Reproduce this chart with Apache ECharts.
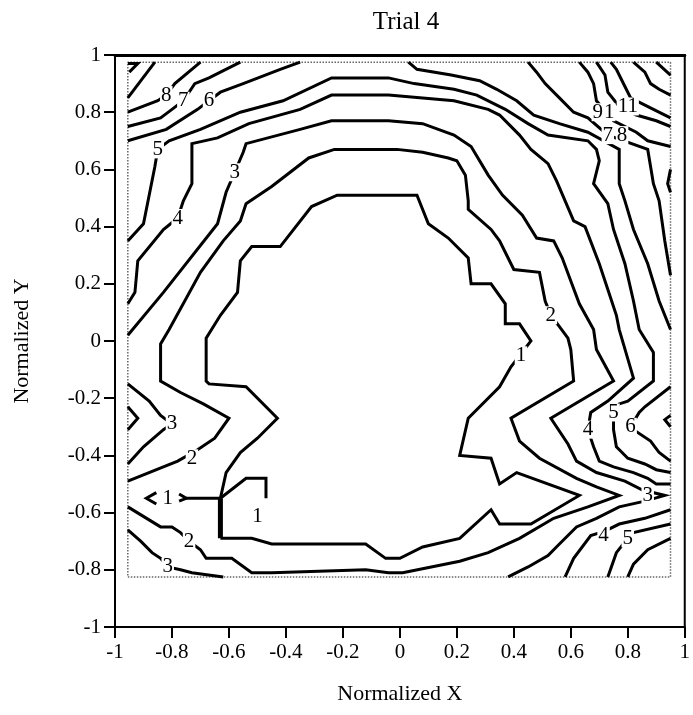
<!DOCTYPE html>
<html><head><meta charset="utf-8">
<script src="https://cdn.jsdelivr.net/npm/echarts@6/dist/echarts.min.js"></script>
<style>html,body{margin:0;padding:0;background:#fff}#c{width:693px;height:715px}</style>
</head><body><div id="c"></div>
<script>
// ---- axis ticks ----
const xTickMin = -1, xTickMax = 1, tickStep = 0.2;
const yTickMin = -1, yTickMax = 1;
// ---- measured data window (dotted frame) ----
const dataFrame = [[-0.955,-0.825],[0.95,-0.825],[0.95,0.975],[-0.955,0.975],[-0.955,-0.825]];
// ---- contour lines (Normalized X, Normalized Y) ----
const c1Loop = [[-0.63,-0.55],[-0.61,-0.46],[-0.56,-0.39],[-0.50,-0.34],[-0.43,-0.27],[-0.54,-0.16],[-0.67,-0.15],[-0.68,-0.14],[-0.68,0.01],[-0.63,0.09],[-0.57,0.17],[-0.56,0.28],[-0.52,0.33],[-0.42,0.33],[-0.31,0.47],[-0.22,0.51],[0.06,0.51],[0.10,0.41],[0.17,0.36],[0.24,0.29],[0.25,0.20],[0.32,0.20],[0.37,0.13],[0.37,0.06],[0.42,0.06],[0.46,0.00],[0.39,-0.09],[0.35,-0.16],[0.24,-0.27],[0.21,-0.40],[0.32,-0.41],[0.35,-0.50],[0.41,-0.46],[0.63,-0.54],[0.46,-0.64],[0.35,-0.64],[0.32,-0.59],[0.21,-0.69],[0.08,-0.72],[0.00,-0.76],[-0.05,-0.76],[-0.12,-0.71],[-0.45,-0.71],[-0.52,-0.69],[-0.63,-0.69]];
const c1Stem = [[-0.63,-0.55],[-0.63,-0.69]];
const c1Hook = [[-0.63,-0.55],[-0.54,-0.48],[-0.47,-0.48],[-0.47,-0.55]];
const c1Spike = [[-0.63,-0.55],[-0.75,-0.55]];
const c1SpikeTail = [[-0.775,-0.535],[-0.75,-0.55],[-0.775,-0.56]];
const c1SpikeTip = [[-0.855,-0.53],[-0.89,-0.55],[-0.855,-0.57]];
const c2Line = [[-0.955,-0.49],[-0.78,-0.42],[-0.71,-0.38],[-0.65,-0.34],[-0.60,-0.27],[-0.69,-0.22],[-0.77,-0.18],[-0.84,-0.14],[-0.84,-0.01],[-0.81,0.04],[-0.70,0.24],[-0.62,0.35],[-0.56,0.42],[-0.54,0.48],[-0.45,0.54],[-0.32,0.64],[-0.23,0.67],[-0.01,0.67],[0.08,0.66],[0.17,0.64],[0.20,0.63],[0.23,0.58],[0.24,0.49],[0.24,0.46],[0.32,0.39],[0.35,0.35],[0.40,0.25],[0.49,0.24],[0.51,0.14],[0.53,0.09],[0.56,0.05],[0.59,0.01],[0.60,-0.03],[0.61,-0.14],[0.39,-0.27],[0.42,-0.35],[0.49,-0.41],[0.62,-0.48],[0.69,-0.51],[0.77,-0.54],[0.66,-0.58],[0.54,-0.62],[0.42,-0.69],[0.31,-0.74],[0.21,-0.77],[0.11,-0.79],[0.01,-0.81],[-0.04,-0.81],[-0.12,-0.80],[-0.45,-0.81],[-0.52,-0.81],[-0.59,-0.76],[-0.68,-0.76],[-0.70,-0.73],[-0.74,-0.70],[-0.77,-0.67],[-0.80,-0.65],[-0.84,-0.65],[-0.955,-0.58]];
const c3Line = [[-0.955,0.02],[-0.83,0.17],[-0.64,0.41],[-0.61,0.52],[-0.58,0.59],[-0.55,0.66],[-0.54,0.69],[-0.35,0.74],[-0.24,0.77],[-0.04,0.77],[0.08,0.76],[0.19,0.72],[0.25,0.68],[0.31,0.58],[0.36,0.51],[0.43,0.44],[0.48,0.36],[0.54,0.35],[0.57,0.29],[0.60,0.21],[0.63,0.13],[0.68,0.04],[0.69,-0.03],[0.75,-0.14],[0.53,-0.27],[0.59,-0.36],[0.62,-0.42],[0.69,-0.46],[0.79,-0.49],[0.85,-0.52],[0.93,-0.54],[0.86,-0.56],[0.77,-0.58],[0.69,-0.62],[0.62,-0.65],[0.56,-0.71],[0.52,-0.75],[0.45,-0.79],[0.38,-0.825]];
const c3LeftV = [[-0.955,-0.15],[-0.88,-0.21],[-0.84,-0.26],[-0.80,-0.29],[-0.83,-0.31],[-0.90,-0.37],[-0.955,-0.43]];
const c3Bottom = [[-0.955,-0.66],[-0.91,-0.70],[-0.87,-0.74],[-0.84,-0.76],[-0.815,-0.79],[-0.77,-0.80],[-0.73,-0.81],[-0.62,-0.825]];
const c4Line = [[-0.955,0.13],[-0.93,0.17],[-0.92,0.28],[-0.83,0.39],[-0.78,0.43],[-0.76,0.49],[-0.73,0.55],[-0.73,0.69],[-0.64,0.71],[-0.53,0.76],[-0.35,0.81],[-0.24,0.86],[-0.04,0.86],[0.08,0.85],[0.19,0.84],[0.31,0.81],[0.35,0.79],[0.42,0.72],[0.46,0.67],[0.52,0.62],[0.55,0.56],[0.58,0.49],[0.61,0.42],[0.65,0.40],[0.70,0.27],[0.73,0.18],[0.76,0.09],[0.77,0.04],[0.82,-0.13],[0.73,-0.21],[0.67,-0.25],[0.66,-0.31],[0.68,-0.37],[0.70,-0.42],[0.75,-0.44],[0.82,-0.46],[0.87,-0.48],[0.90,-0.50],[0.95,-0.50]];
const c4LeftTip = [[-0.955,-0.23],[-0.92,-0.27],[-0.955,-0.31]];
const c4Bottom = [[0.95,-0.59],[0.86,-0.62],[0.77,-0.64],[0.72,-0.665],[0.67,-0.68],[0.61,-0.76],[0.58,-0.825]];
const c5Line = [[-0.955,0.35],[-0.90,0.41],[-0.86,0.61],[-0.85,0.67],[-0.81,0.70],[-0.70,0.74],[-0.56,0.80],[-0.41,0.84],[-0.24,0.92],[-0.04,0.92],[0.05,0.90],[0.19,0.88],[0.27,0.86],[0.37,0.81],[0.45,0.76],[0.52,0.72],[0.66,0.70],[0.69,0.67],[0.70,0.63],[0.68,0.55],[0.73,0.48],[0.75,0.39],[0.79,0.27],[0.82,0.14],[0.84,0.04],[0.89,-0.04],[0.89,-0.14],[0.80,-0.21],[0.77,-0.22],[0.75,-0.25],[0.75,-0.31],[0.76,-0.37],[0.80,-0.41],[0.86,-0.43],[0.90,-0.45],[0.95,-0.46]];
const c5Bottom = [[0.95,-0.64],[0.82,-0.67],[0.80,-0.69],[0.76,-0.74],[0.73,-0.825]];
const c6Left = [[-0.955,0.70],[-0.82,0.74],[-0.71,0.81],[-0.67,0.84],[-0.63,0.87],[-0.55,0.90],[-0.42,0.95],[-0.35,0.975]];
const c6Right = [[0.03,0.975],[0.06,0.95],[0.18,0.93],[0.28,0.91],[0.34,0.88],[0.41,0.84],[0.47,0.79],[0.56,0.76],[0.66,0.73],[0.77,0.67],[0.77,0.61],[0.77,0.55],[0.79,0.49],[0.82,0.39],[0.87,0.27],[0.91,0.14],[0.95,0.04]];
const c6Lobe = [[0.95,-0.16],[0.86,-0.23],[0.84,-0.25],[0.81,-0.30],[0.82,-0.31],[0.88,-0.35],[0.91,-0.39],[0.95,-0.42]];
const c6Bottom = [[0.95,-0.69],[0.87,-0.73],[0.82,-0.78],[0.80,-0.825]];
const c7Left = [[-0.955,0.75],[-0.84,0.78],[-0.80,0.81],[-0.76,0.84],[-0.72,0.90],[-0.67,0.92],[-0.56,0.975]];
const c7Right = [[0.45,0.975],[0.48,0.94],[0.51,0.90],[0.56,0.85],[0.61,0.80],[0.66,0.78],[0.73,0.72],[0.87,0.67],[0.88,0.61],[0.89,0.55],[0.91,0.49],[0.93,0.35],[0.95,0.23]];
const c7Tip = [[0.95,-0.26],[0.93,-0.275],[0.95,-0.30]];
const c8Left = [[-0.955,0.80],[-0.85,0.84],[-0.82,0.86],[-0.79,0.90],[-0.70,0.975]];
const c8Right = [[0.63,0.975],[0.66,0.94],[0.68,0.90],[0.69,0.84],[0.75,0.77],[0.83,0.73],[0.87,0.70],[0.95,0.68]];
const c8Bump = [[0.95,0.60],[0.94,0.55],[0.95,0.52]];
const c9Left = [[-0.955,0.85],[-0.86,0.975]];
const c9Right = [[0.69,0.975],[0.72,0.93],[0.73,0.87],[0.77,0.82],[0.83,0.79],[0.90,0.77],[0.95,0.75]];
const c10Right = [[0.74,0.975],[0.76,0.95],[0.79,0.89],[0.81,0.85],[0.85,0.83],[0.89,0.81],[0.95,0.78]];
const c10Corner = [[-0.955,0.97],[-0.92,0.97],[-0.95,0.94]];
const c11Line = [[0.82,0.975],[0.86,0.94],[0.88,0.90],[0.91,0.88],[0.95,0.86]];
const c12Line = [[0.90,0.975],[0.95,0.93]];
// ---- contour labels ----
const labelText = ["8","7","6","5","4","3","9","1","11","7","8","2","1","5","6","4","3","4","5","3","2","1","1","2","3"];
const labelX = [-0.82,-0.76,-0.67,-0.85,-0.78,-0.58,0.695,0.735,0.80,0.73,0.78,0.53,0.425,0.75,0.81,0.66,0.87,0.715,0.80,-0.80,-0.73,-0.815,-0.50,-0.74,-0.815];
const labelY = [0.86,0.84,0.84,0.67,0.43,0.59,0.80,0.80,0.82,0.72,0.72,0.09,-0.05,-0.25,-0.30,-0.31,-0.54,-0.68,-0.69,-0.29,-0.41,-0.55,-0.615,-0.70,-0.79];

const contours = [c1Loop,c1Hook,c1Spike,c1SpikeTail,c1SpikeTip,c2Line,c3Line,c3LeftV,c3Bottom,c4Line,c4LeftTip,c4Bottom,c5Line,c5Bottom,c6Left,c6Right,c6Lobe,c6Bottom,c7Left,c7Right,c7Tip,c8Left,c8Right,c8Bump,c9Left,c9Right,c10Right,c10Corner,c11Line,c12Line];

const FONT = 'Liberation Serif';
const series = [];
series.push({type:'line', data:dataFrame, showSymbol:false, silent:true, z:1,
  lineStyle:{color:'#666', width:1.5, type:'dotted'}});
contours.forEach(c => series.push({type:'line', data:c, showSymbol:false, silent:true, z:2,
  lineStyle:{color:'#000', width:3, join:'miter'}}));
series.push({type:'line', data:c1Stem, showSymbol:false, silent:true, z:2, lineStyle:{color:'#000', width:5}});
series.push({type:'scatter', symbolSize:1, silent:true, z:5,
  itemStyle:{opacity:0},
  data: labelText.map((t,i)=>({name:t, value:[labelX[i], labelY[i]]})),
  label:{show:true, position:'inside', formatter:p=>p.name, color:'#000', opacity:1,
    textBorderWidth:0, fontFamily:FONT, fontSize:21,
    backgroundColor:'#fff', padding:[0,1], lineHeight:18}});

const fmt = v => String(Math.round(v*10)/10);
const chart = echarts.init(document.getElementById('c'), null, {renderer:'canvas'});
chart.setOption({
  animation:false,
  backgroundColor:'#fff',
  title:{text:'Trial 4', left:401, top:5, textAlign:'center',
    textStyle:{fontFamily:FONT, fontSize:25, fontWeight:'normal', color:'#000'}},
  grid:{left:115, right:5, top:55, bottom:88, show:true, borderColor:'#000', borderWidth:2},
  xAxis:[{type:'value', min:xTickMin, max:xTickMax, interval:tickStep,
    name:'Normalized X', nameLocation:'middle', nameGap:56,
    nameTextStyle:{fontFamily:FONT, fontSize:22, color:'#000'},
    axisLine:{onZero:false, lineStyle:{color:'#000', width:2}},
    axisTick:{length:11, lineStyle:{color:'#000', width:2}},
    axisLabel:{formatter:fmt, fontFamily:FONT, fontSize:21, color:'#000', margin:15},
    splitLine:{show:false}},
    {type:'value', position:'top', min:xTickMin, max:xTickMax, axisLine:{show:true, onZero:false, lineStyle:{color:'#000', width:3}},
     axisTick:{show:false}, axisLabel:{show:false}, splitLine:{show:false}}],
  yAxis:{type:'value', min:yTickMin, max:yTickMax, interval:tickStep,
    name:'Normalized Y', nameLocation:'middle', nameGap:82,
    nameTextStyle:{fontFamily:FONT, fontSize:22, color:'#000'},
    axisLine:{onZero:false, lineStyle:{color:'#000', width:2}},
    axisTick:{length:11, lineStyle:{color:'#000', width:2}},
    axisLabel:{formatter:fmt, fontFamily:FONT, fontSize:21, color:'#000', margin:14},
    splitLine:{show:false}},
  series: series
});
</script></body></html>
